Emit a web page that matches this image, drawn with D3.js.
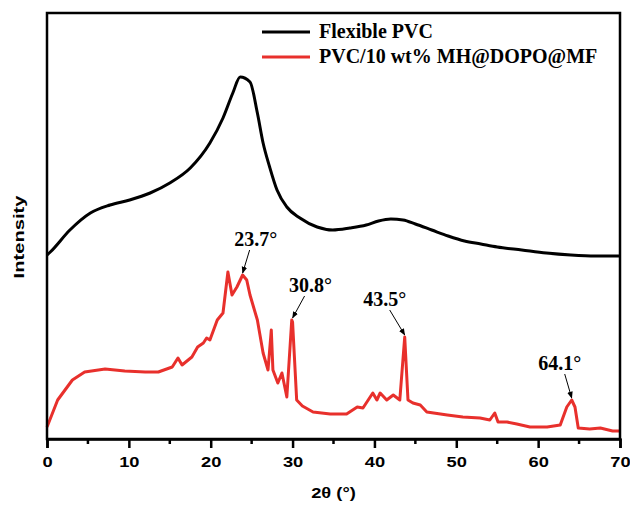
<!DOCTYPE html>
<html>
<head>
<meta charset="utf-8">
<script src="https://cdn.jsdelivr.net/npm/d3@7"></script>
<style>
  body { margin: 0; background: #fff; }
  .sans { font-family: "Liberation Sans", Arial, sans-serif; font-weight: bold; font-size: 15px; }
  .lbl { font-family: "Liberation Serif", "Times New Roman", serif; font-weight: bold; font-size: 20px; }
</style>
</head>
<body>
<main></main>
<script>
var width = 630;
var height = 506;

// 2theta (deg) and intensity (a.u.)
var pvcAngle = [0, 0.4, 2.8, 5.3, 7.7, 10.1, 12.6, 15.0, 17.5, 19.9, 21.5, 22.7, 23.6, 24.8, 25.7, 26.4,
  27.2, 28.1, 29.3, 30.9, 33.0, 34.9, 37.0, 39.0, 40.5, 42.0, 43.5, 45.0, 47.0, 49.0, 51.0, 53.0,
  55.0, 58.0, 61.0, 64.0, 67.0, 70];
var pvcValue = [184, 187, 209, 226, 234, 239, 246, 256, 271, 296, 321, 346, 362, 357, 326, 296,
  272, 249, 232, 221, 212, 209, 211, 214, 218, 220, 219, 215, 209, 203, 198, 195,
  192, 189, 186, 184, 183, 183];

var mhAngle = [0, 0.1, 1.3, 3.1, 4.6, 7.1, 9.5, 12.0, 13.6, 15.3, 16.0, 16.5, 17.7, 18.4, 19.1, 19.5, 19.9,
  20.8, 21.5, 22.1, 22.6, 23.2, 23.9, 24.4, 24.8, 25.7, 26.4, 27.0, 27.4, 27.6, 28.2, 28.7, 29.3,
  29.9, 30.0, 30.5, 31.2, 32.5, 34.6, 36.6, 37.9, 38.6, 39.8, 40.3, 40.7, 41.5, 42.3, 43.1, 43.7,
  44.1, 44.7, 45.6, 46.4, 48.9, 50.8, 52.9, 54.1, 54.7, 55.1, 56.2, 57.4, 59.0, 61.1, 62.7, 63.5,
  64.1, 64.5, 64.9, 66.3, 67.6, 69.1, 70];
var mhValue = [12, 14, 39, 59, 67, 70, 68, 67, 67, 72, 81, 74, 82, 92, 96, 101, 99,
  119, 126, 167, 144, 152, 164, 159, 144, 119, 86, 69, 109, 69, 56, 66, 42,
  119, 117, 39, 33, 27, 25, 25, 32, 31, 46, 39, 46, 39, 44, 39, 102,
  39, 36, 34, 27, 24, 22, 21, 19, 26, 17, 17, 15, 12, 12, 14, 32,
  39, 32, 11, 10, 11, 8, 8];

var seriesNames = ["Flexible PVC", "PVC/10 wt% MH@DOPO@MF"];
var seriesColors = ["#000000", "#e8302c"];

var peakAngle = [23.9, 30.0, 43.7, 64.1];
var peakValue = [164, 119, 102, 39];
var peakLabel = ["23.7°", "30.8°", "43.5°", "64.1°"];
// label offsets from the peak (px)
var labelDx = [13, 18, -20, -12];
var labelDy = [-23, -22, -25, -24];

var xTicks = [0, 10, 20, 30, 40, 50, 60, 70];
var xMinor = [5, 15, 25, 35, 45, 55, 65];

var margin = {left: 47, right: 10, top: 13, bottom: 67};
var stretch = 1.22; // the sans labels are drawn wide

var svg = d3.select("main").append("svg")
    .attr("width", width)
    .attr("height", height);

var x = d3.scaleLinear().domain([0, 70]).range([margin.left, width - margin.right]);
var y = d3.scaleLinear().domain([0, 426]).range([height - margin.bottom, margin.top]);

var line = d3.line()
    .x(function(d) { return x(d[0]); })
    .y(function(d) { return y(d[1]); });

svg.append("path")
    .datum(d3.zip(pvcAngle, pvcValue))
    .attr("d", line.curve(d3.curveMonotoneX))
    .attr("fill", "none")
    .attr("stroke", seriesColors[0])
    .attr("stroke-width", 3);

svg.append("path")
    .datum(d3.zip(mhAngle, mhValue))
    .attr("d", line.curve(d3.curveLinear))
    .attr("fill", "none")
    .attr("stroke", seriesColors[1])
    .attr("stroke-width", 3)
    .attr("stroke-linejoin", "round");

// frame
var x0 = x(0), x1 = x(70), y0 = y(0), y1 = y(426);
svg.append("path")
    .attr("d", "M" + x0 + "," + y0 + "V" + y1 + "H" + x1 + "V" + y0 + "Z")
    .attr("fill", "none")
    .attr("stroke", "#000")
    .attr("stroke-width", 2.5);

var xAxis = svg.append("g")
    .attr("transform", "translate(0," + y0 + ")")
    .call(d3.axisBottom(x).tickValues(xTicks).tickFormat(d3.format("d")).tickSize(9).tickPadding(8));
xAxis.select(".domain").attr("stroke-width", 2.5);
xAxis.selectAll(".tick line").attr("stroke-width", 2.5);
xAxis.selectAll(".tick text")
    .attr("class", "sans")
    .attr("font-size", null)
    .attr("font-family", null)
    .attr("fill", "#000")
    .attr("transform", "scale(" + stretch + ",1)");
xAxis.attr("font-size", null).attr("font-family", null);

svg.append("g")
    .attr("transform", "translate(0," + y0 + ")")
    .selectAll("line")
    .data(xMinor)
    .enter().append("line")
    .attr("x1", function(d) { return x(d); })
    .attr("x2", function(d) { return x(d); })
    .attr("y1", 0)
    .attr("y2", 5)
    .attr("stroke", "#000")
    .attr("stroke-width", 2.5);

svg.append("text")
    .attr("class", "sans")
    .attr("transform", "translate(" + ((x0 + x1) / 2) + ",498) scale(" + stretch + ",1)")
    .attr("text-anchor", "middle")
    .text("2θ (°)");

svg.append("text")
    .attr("class", "sans")
    .attr("transform", "translate(24,237) rotate(-90) scale(1.3,1)")
    .attr("text-anchor", "middle")
    .style("font-size", "15.5px")
    .text("Intensity");

// legend
var legend = svg.append("g").attr("transform", "translate(262,32)");
seriesNames.forEach(function(name, i) {
  legend.append("line")
      .attr("x1", 0).attr("x2", 48)
      .attr("y1", i * 25).attr("y2", i * 25)
      .attr("stroke", seriesColors[i])
      .attr("stroke-width", 3);
  legend.append("text")
      .attr("class", "lbl")
      .attr("x", 57)
      .attr("y", i * 25 + 6)
      .text(name);
});

// peak labels
svg.append("defs").append("marker")
    .attr("id", "arrow")
    .attr("viewBox", "0 0 10 10")
    .attr("refX", 9).attr("refY", 5)
    .attr("markerWidth", 7).attr("markerHeight", 7)
    .attr("orient", "auto")
  .append("path")
    .attr("d", "M0,1L10,5L0,9z")
    .attr("fill", "#000");

peakAngle.forEach(function(a, i) {
  var px = x(a), py = y(peakValue[i]) - 2;
  var tx = px + labelDx[i], ty = py + labelDy[i];
  svg.append("line")
      .attr("x1", tx + (labelDx[i] > 0 ? -6 : 5))
      .attr("y1", ty)
      .attr("x2", px)
      .attr("y2", py)
      .attr("stroke", "#000")
      .attr("stroke-width", 1)
      .attr("marker-end", "url(#arrow)");
  svg.append("text")
      .attr("class", "lbl")
      .attr("x", tx)
      .attr("y", ty - 4)
      .attr("text-anchor", "middle")
      .text(peakLabel[i]);
});
</script>
</body>
</html>
